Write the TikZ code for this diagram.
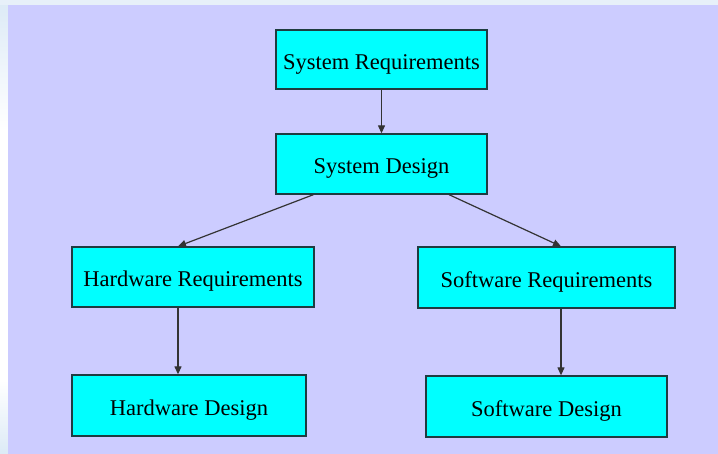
\documentclass[tikz,border=0pt]{standalone}
\usepackage{fontspec}
\setmainfont{Liberation Serif}
\usetikzlibrary{arrows.meta}
\definecolor{lavender}{HTML}{CCCCFF}
\definecolor{boxcyan}{HTML}{00FFFF}
\definecolor{boxedge}{HTML}{1E3C40}
\definecolor{edgeblue}{HTML}{DCEAF6}
\begin{document}
\begin{tikzpicture}[x=1pt,y=-1pt,
  stagebox/.style={draw=boxedge,line width=1.3pt,fill=boxcyan,inner sep=0pt,
    font=\fontsize{22.5}{26}\selectfont,text=black,text height=20pt,text depth=0pt},
  flow/.style={draw=black!80,line width=1.2pt,-{Triangle[length=8pt,width=7pt]}}]
  % page backdrop
  \fill[white] (0,0) rectangle (718,454);
  \shade[top color=edgeblue,bottom color=white] (0,0) rectangle (8,130);
  \shade[top color=white,bottom color=edgeblue] (0,380) rectangle (8,454);
  \fill[edgeblue!70] (0,0) rectangle (718,5);
  \fill[lavender] (8,5) rectangle (718,454);
  \useasboundingbox (0,0) rectangle (718,454);

  % stages
  \node[stagebox,minimum width=211pt,minimum height=59pt] (sysreq) at (381.5,59.5) {System Requirements};
  \node[stagebox,minimum width=211pt,minimum height=60pt] (sysdes) at (381.5,164) {System Design};
  \node[stagebox,minimum width=242pt,minimum height=60pt] (hwreq) at (193,277) {Hardware Requirements};
  \node[stagebox,minimum width=257pt,minimum height=61pt] (swreq) at (546.5,277.5) {Software Requirements};
  \node[stagebox,minimum width=234pt,minimum height=61pt] (hwdes) at (189,405.5) {Hardware Design};
  \node[stagebox,minimum width=241pt,minimum height=61pt] (swdes) at (546.5,406.5) {Software Design};

  % connectors
  \draw[flow] (sysreq.south) -- (sysdes.north);
  \draw[flow] ([xshift=-68pt]sysdes.south) -- ([xshift=-15pt]hwreq.north);
  \draw[flow] ([xshift=67.5pt]sysdes.south) -- ([xshift=14.5pt]swreq.north);
  \draw[flow] ([xshift=-15pt]hwreq.south) -- ([xshift=-11pt]hwdes.north);
  \draw[flow] ([xshift=14.5pt]swreq.south) -- ([xshift=14.5pt]swdes.north);
\end{tikzpicture}
\end{document}
